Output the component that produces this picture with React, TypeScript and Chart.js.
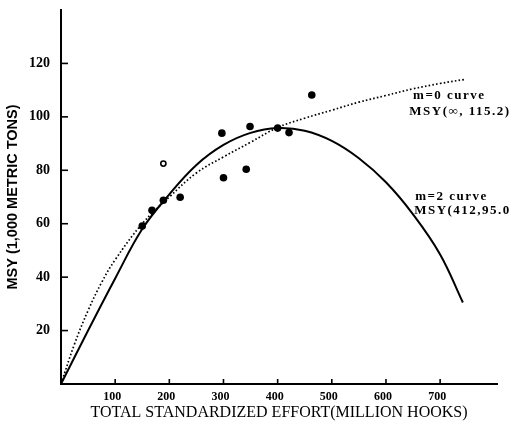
import { useEffect, useRef } from 'react';
import { Chart, registerables } from 'chart.js';

Chart.register(...registerables);

// m=2 curve (solid)
const solidX = [0, 50, 100, 150, 200, 250, 300, 350, 400, 450, 500, 550, 600, 650, 700, 742];
const solidY = [0, 20, 39.5, 58, 71, 82, 89.5, 94, 95.8, 94.8, 91, 84.5, 75.5, 63.5, 48.5, 30.5];

// m=0 curve (dotted)
const dottedX = [0, 25, 50, 75, 100, 150, 200, 250, 300, 350, 400, 450, 500, 550, 600, 650, 700, 745];
const dottedY = [0, 15, 27.5, 38, 46.5, 60, 70, 79, 85, 90.5, 96, 99.5, 102.5, 105.5, 108, 110.5, 112.5, 114];

// observed points (filled)
const obsX = [150, 168, 189, 220, 300, 342, 297, 349, 400, 421, 463];
const obsY = [59.1, 65.0, 68.8, 69.9, 77.2, 80.4, 93.9, 96.4, 95.8, 94.1, 108.2];

// open circle point
const openX = [189];
const openY = [82.5];

const xTickLabels = [100, 200, 300, 400, 500, 600, 700];
const yTickLabels = [20, 40, 60, 80, 100, 120];

const annotationTexts = ['m=0 curve', 'MSY(\u221E, 115.2)', 'm=2 curve', 'MSY(412,95.0)'];
const annotationX = [650, 643, 654, 652];
const annotationY = [108, 102, 70, 65];

const zip = (xs: number[], ys: number[]) => xs.map((x, i) => ({ x, y: ys[i] }));

const SERIF = '"Liberation Serif", "DejaVu Serif", serif';
const SANS = '"Liberation Sans", Arial, sans-serif';

const decorPlugin = {
  id: 'decor',
  afterDraw(chart: any) {
    const ctx = chart.ctx as CanvasRenderingContext2D;
    const xs = chart.scales.x;
    const ys = chart.scales.y;
    const { left, bottom } = chart.chartArea;
    ctx.save();
    ctx.strokeStyle = '#000';
    ctx.lineWidth = 1.6;
    xTickLabels.forEach((v) => {
      const px = xs.getPixelForValue(v);
      ctx.beginPath();
      ctx.moveTo(px, bottom);
      ctx.lineTo(px, bottom - 5);
      ctx.stroke();
    });
    yTickLabels.forEach((v) => {
      const py = ys.getPixelForValue(v);
      ctx.beginPath();
      ctx.moveTo(left, py);
      ctx.lineTo(left + 7, py);
      ctx.stroke();
    });
    ctx.fillStyle = '#000';
    // x tick labels
    ctx.font = `bold 12px ${SERIF}`;
    ctx.textAlign = 'center';
    ctx.textBaseline = 'middle';
    xTickLabels.forEach((v) => {
      ctx.fillText(String(v), xs.getPixelForValue(v) - 3, bottom + 13);
    });
    // annotations
    ctx.font = `bold 13px ${SERIF}`;
    (ctx as any).letterSpacing = '1.5px';
    ctx.textAlign = 'left';
    ctx.textBaseline = 'middle';
    annotationTexts.forEach((t, i) => {
      ctx.fillText(t, xs.getPixelForValue(annotationX[i]), ys.getPixelForValue(annotationY[i]));
    });
    ctx.restore();
  },
};

export default function App() {
  const ref = useRef<HTMLCanvasElement>(null);
  useEffect(() => {
    const chart = new Chart(ref.current as HTMLCanvasElement, {
      type: 'scatter',
      data: {
        datasets: [
          {
            data: zip(solidX, solidY),
            showLine: true,
            borderColor: '#000',
            borderWidth: 2,
            pointRadius: 0,
            tension: 0.4,
          } as any,
          {
            data: zip(dottedX, dottedY),
            showLine: true,
            borderColor: '#000',
            borderWidth: 1.7,
            borderDash: [1.6, 2.2],
            pointRadius: 0,
            tension: 0.4,
          } as any,
          {
            data: zip(obsX, obsY),
            pointRadius: 3.8,
            backgroundColor: '#000',
            borderColor: '#000',
            borderWidth: 0,
          },
          {
            data: zip(openX, openY),
            pointRadius: 2.6,
            backgroundColor: '#fff',
            borderColor: '#000',
            borderWidth: 1.6,
          },
        ],
      },
      options: {
        responsive: false,
        animation: false,
        layout: { padding: { top: 10, right: 14, left: 0, bottom: 0 } },
        plugins: { legend: { display: false }, tooltip: { enabled: false } },
        scales: {
          x: {
            type: 'linear',
            min: 0,
            max: 805,
            afterFit: (s: any) => {
              s.height = 38;
              s.paddingLeft = 0;
              s.paddingRight = 0;
            },
            grid: { display: false, drawTicks: false },
            border: { display: true, color: '#000', width: 2 },
            ticks: { display: false, stepSize: 100 },
            title: {
              display: true,
              text: 'TOTAL STANDARDIZED EFFORT(MILLION HOOKS)',
              color: '#000',
              font: { family: SERIF, size: 16 },
              padding: { top: 0, bottom: 0 },
            },
          },
          y: {
            type: 'linear',
            min: 0,
            max: 140,
            afterFit: (s: any) => {
              s.width = 61;
              s.paddingTop = 0;
              s.paddingBottom = 0;
            },
            grid: { display: false, drawTicks: false },
            border: { display: true, color: '#000', width: 2 },
            ticks: {
              stepSize: 20,
              autoSkip: false,
              padding: 11,
              color: '#000',
              font: { family: SERIF, size: 14, weight: 'bold' },
              callback: (v: any) => (yTickLabels.includes(Number(v)) ? String(v) : ''),
            },
            title: {
              display: true,
              text: 'MSY (1,000 METRIC TONS)',
              color: '#000',
              font: { family: SANS, size: 14.5, weight: 'bold' },
              padding: { top: 4, bottom: 0 },
            },
          },
        },
      } as any,
      plugins: [decorPlugin],
    });
    return () => chart.destroy();
  }, []);
  return (
    <div style={{ position: 'fixed', left: 0, top: 0, width: 511, height: 422, background: '#fff' }}>
      <canvas ref={ref} width={511} height={422} />
    </div>
  );
}
